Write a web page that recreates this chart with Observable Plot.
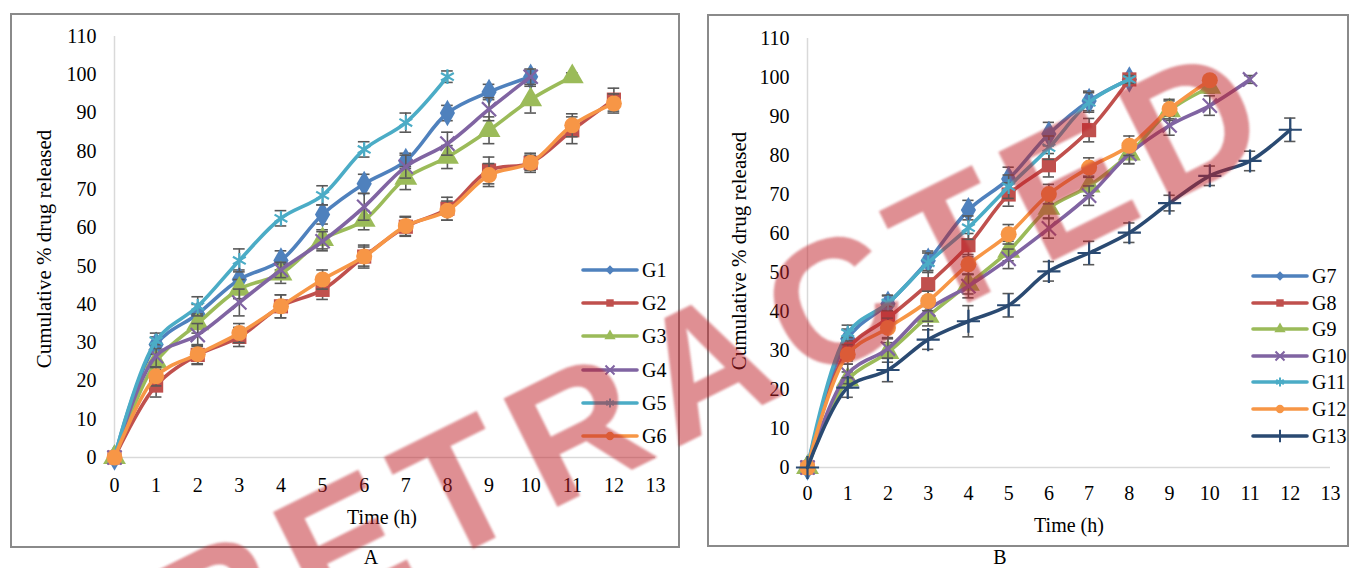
<!DOCTYPE html>
<html>
<head>
<meta charset="utf-8">
<script src="https://cdn.jsdelivr.net/npm/d3@7"></script>
<script src="https://cdn.jsdelivr.net/npm/@observablehq/plot@0.6"></script>
<style>
  html, body { margin: 0; padding: 0; background: #fff; }
  #wrap { position: relative; width: 1349px; height: 568px; overflow: hidden; font-family: "Liberation Serif", "Times New Roman", serif; color: #000; }
  .frame { position: absolute; border: 2px solid #8a8a8a; box-sizing: border-box; }
  .abs { position: absolute; white-space: nowrap; }
  .plotbox { position: absolute; top: 0; }
  .legend-item { position: absolute; display: flex; align-items: center; font-size: 20px; line-height: 1; }
  #watermark { position: absolute; left: 712px; top: 362px; transform: translate(-50%, -50%) rotate(-26.4deg);
    font-family: "Liberation Sans", Arial, sans-serif; font-weight: bold; font-size: 176px; letter-spacing: 16px;
    color: rgba(192, 32, 40, 0.5); white-space: nowrap; line-height: 1; filter: blur(1.2px); pointer-events: none; }
</style>
</head>
<body>
<div id="wrap">
  <div class="frame" style="left:10px; top:13px; width:670px; height:535px;"></div>
  <div class="frame" style="left:707px; top:14px; width:642px; height:533px;"></div>
  <div id="plotA" class="plotbox" style="left:0px;"></div>
  <div id="plotB" class="plotbox" style="left:700px;"></div>
</div>
<script>
// ---------------- data ----------------
const hours = [0, 1, 2, 3, 4, 5, 6, 7, 8, 9, 10, 11, 12];
const xTicks = [0, 1, 2, 3, 4, 5, 6, 7, 8, 9, 10, 11, 12, 13];
const yTicks = [0, 10, 20, 30, 40, 50, 60, 70, 80, 90, 100, 110];

// Panel A
const g1 = [0, 29.5, 37.5, 46.5, 51.5, 63.5, 71.5, 77.5, 90, 95.5, 99.5];
const g1Err = [0, 2, 2.5, 2.5, 2.5, 2.5, 2.5, 2, 2, 2, 1.5];
const g2 = [0, 18.8, 26.8, 31.5, 39.5, 43.8, 52.5, 60.3, 65, 75, 77, 85.5, 93.5];
const g2Err = [0, 3, 2.5, 2.5, 3, 2.5, 3, 2.5, 3, 3.5, 2.5, 3.5, 3];
const g3 = [0, 25, 35, 44, 48, 57, 62, 73, 78.5, 85.5, 93.5, 99.5];
const g3Err = [0, 2, 2.5, 2.5, 2.5, 2.5, 2.5, 3, 3, 3.5, 3.5, 1];
const g4 = [0, 26.5, 32, 40.5, 49, 56.5, 65.5, 76, 82, 91, 99.5];
const g4Err = [0, 3, 3, 3.5, 2, 2.5, 3.5, 3, 3, 3, 2];
const g5 = [0, 30.5, 39.5, 51.5, 62.5, 68.5, 80.5, 87.5, 99.5];
const g5Err = [0, 2, 2.5, 3, 2, 2.5, 2, 2.5, 1.5];
const g6 = [0, 21.2, 27, 32.5, 39.5, 46.5, 52.5, 60.5, 64.5, 73.8, 77, 86.8, 92.5];
const g6Err = [0, 2.5, 2.5, 2.5, 3, 2.5, 2.5, 2.5, 2.5, 3, 2, 3, 2.5];

// Panel B
const g7 = [0, 33, 42, 53, 66, 74, 85.5, 94, 99.5];
const g7Err = [0, 2.5, 2, 2.5, 2.5, 3, 3, 2.5, 1];
const g8 = [0, 30.3, 38.3, 47, 57, 70, 77.5, 86.5, 99.5];
const g8Err = [0, 3, 3, 3.5, 3, 3, 3, 3, 1];
const g9 = [0, 22.5, 29.5, 38.8, 47, 55.5, 66.5, 72.2, 80.4, 91.5, 97.5];
const g9Err = [0, 2, 2.5, 2.5, 2.5, 2.5, 2.5, 2.5, 2.5, 2.5, 1.5];
const g10 = [0, 24, 30.5, 40.5, 46.5, 53.5, 61.3, 69.7, 80.4, 87.7, 92.8, 99.5];
const g10Err = [0, 2.5, 2.5, 3, 3, 2.5, 2.5, 2.5, 2.5, 2.5, 2.5, 1];
const g11 = [0, 34.5, 42.2, 52.5, 61.5, 72, 82, 93.6, 99.5];
const g11Err = [0, 2, 2, 2.5, 3, 3, 3, 2.5, 1];
const g12 = [0, 29, 35.8, 42.7, 52.1, 59.8, 70.1, 76.9, 82.5, 91.9, 99.3];
const g12Err = [0, 2.5, 2.5, 2.5, 2.5, 2.5, 2.5, 2.5, 2.5, 2.5, 1];
const g13 = [0, 20.5, 25, 32.8, 37.5, 41.6, 50.3, 55, 60.2, 67.8, 74.8, 78.6, 86.6];
const g13Err = [0, 2.5, 3, 2.5, 4, 3, 2.5, 3, 2.5, 2, 2.5, 2.5, 3];

const namesA = ["G1", "G2", "G3", "G4", "G5", "G6"];
const namesB = ["G7", "G8", "G9", "G10", "G11", "G12", "G13"];
const colors = {G1:"#4F81BD", G2:"#C0504D", G3:"#9BBB59", G4:"#8064A2", G5:"#4BACC6", G6:"#F79646",
                G7:"#4F81BD", G8:"#C0504D", G9:"#9BBB59", G10:"#8064A2", G11:"#4BACC6", G12:"#F79646", G13:"#2A4A72"};
const symbols = {G1:"diamond", G2:"square", G3:"triangle", G4:"times", G5:"asterisk", G6:"circle",
                 G7:"diamond", G8:"square", G9:"triangle", G10:"times", G11:"asterisk", G12:"circle", G13:"plus"};
const valuesA = [g1, g2, g3, g4, g5, g6];
const errsA = [g1Err, g2Err, g3Err, g4Err, g5Err, g6Err];
const valuesB = [g7, g8, g9, g10, g11, g12, g13];
const errsB = [g7Err, g8Err, g9Err, g10Err, g11Err, g12Err, g13Err];

// ---------------- drawing ----------------
const strokeOnly = new Set(["times", "asterisk", "plus"]);
const markerR = {diamond: 8, square: 8, triangle: 8.5, times: 6.5, asterisk: 7, circle: 8, plus: 7.5};
const capHalf = 0.14;

function seriesMarks(name, values, errs) {
  const rows = values.map((v, i) => ({t: hours[i], v, e: errs[i]}));
  const eb = rows.filter(d => d.e > 0);
  const c = colors[name], s = symbols[name];
  const dotOpts = strokeOnly.has(s)
    ? {x: "t", y: "v", symbol: s, r: markerR[s], stroke: c, strokeWidth: 2.2, fill: "none"}
    : {x: "t", y: "v", symbol: s, r: markerR[s], fill: c, stroke: "none"};
  return [
    Plot.ruleX(eb, {x: "t", y1: d => d.v - d.e, y2: d => d.v + d.e, stroke: "#595959", strokeWidth: 1.6}),
    Plot.ruleY(eb, {y: d => d.v - d.e, x1: d => d.t - capHalf, x2: d => d.t + capHalf, stroke: "#595959", strokeWidth: 1.6}),
    Plot.ruleY(eb, {y: d => d.v + d.e, x1: d => d.t - capHalf, x2: d => d.t + capHalf, stroke: "#595959", strokeWidth: 1.6}),
    Plot.line(rows, {x: "t", y: "v", stroke: c, strokeWidth: 3.6, curve: "catmull-rom", strokeLinejoin: "round", strokeLinecap: "round"}),
    Plot.dot(rows, dotOpts)
  ];
}

function panel(names, values, errs, opts) {
  const marks = [
    Plot.ruleY([0], {x1: 0, x2: 13, stroke: "#d9d9d9", strokeWidth: 1.5}),
    Plot.ruleX([0], {y1: 0, y2: 110, stroke: "#d9d9d9", strokeWidth: 1.5}),
    Plot.axisX({ticks: xTicks, tickSize: 0, tickPadding: opts.xPad, tickFormat: d => String(d), label: null}),
    Plot.axisY({ticks: yTicks, tickSize: 0, tickPadding: 18, tickFormat: d => String(d), label: null})
  ];
  names.forEach((n, i) => marks.push(...seriesMarks(n, values[i], errs[i])));
  return Plot.plot({
    width: opts.width, height: 568,
    marginLeft: opts.ml, marginRight: opts.mr, marginTop: opts.mt, marginBottom: opts.mb,
    x: {domain: [0, 13]}, y: {domain: [0, 110]},
    style: {fontFamily: "'Liberation Serif', 'Times New Roman', serif", fontSize: "20px", color: "#000", background: "transparent", overflow: "visible"},
    marks
  });
}

document.getElementById("plotA").append(panel(namesA, valuesA, errsA, {width: 700, ml: 114, mr: 45, mt: 36, mb: 111, xPad: 20}));
document.getElementById("plotB").append(panel(namesB, valuesB, errsB, {width: 649, ml: 107, mr: 19, mt: 38, mb: 101, xPad: 18}));

// ---------------- texts ----------------
const wrap = document.getElementById("wrap");
function addText(txt, x, y, size, rotate) {
  const d = document.createElement("div");
  d.className = "abs";
  d.textContent = txt;
  d.style.fontSize = size + "px";
  d.style.lineHeight = "1";
  d.style.left = x + "px";
  d.style.top = y + "px";
  d.style.transform = "translate(-50%, -50%)" + (rotate ? " rotate(" + rotate + "deg)" : "");
  wrap.append(d);
}
const yTitle = "Cumulative % drug released";
const xTitle = "Time (h)";
addText(yTitle, 44, 249, 21, -90);
addText(yTitle, 739, 251, 21, -90);
addText(xTitle, 382, 517, 20);
addText(xTitle, 1069, 525, 20);
addText("A", 371, 557, 20);
addText("B", 1000, 557, 20);

// legends
function legend(names, x0, y0, dy) {
  const symMap = {diamond: d3.symbolDiamond2, square: d3.symbolSquare, triangle: d3.symbolTriangle, times: d3.symbolTimes, asterisk: d3.symbolAsterisk, circle: d3.symbolCircle, plus: d3.symbolPlus};
  names.forEach((n, i) => {
    const item = document.createElement("div");
    item.className = "legend-item";
    item.style.left = x0 + "px";
    item.style.top = (y0 + i * dy - 10) + "px";
    item.style.height = "20px";
    const s = symbols[n], c = colors[n];
    const svg = d3.create("svg").attr("width", 56).attr("height", 20).style("overflow", "visible");
    svg.append("line").attr("x1", 1).attr("x2", 55).attr("y1", 10).attr("y2", 10)
      .attr("stroke", c).attr("stroke-width", 3.6).attr("stroke-linecap", "round");
    const p = svg.append("path").attr("d", d3.symbol(symMap[s], 55)()).attr("transform", "translate(28,10)");
    if (strokeOnly.has(s)) p.attr("fill", "none").attr("stroke", c).attr("stroke-width", 2);
    else p.attr("fill", c);
    item.append(svg.node());
    const t = document.createElement("span");
    t.textContent = n;
    t.style.marginLeft = "4px";
    item.append(t);
    wrap.append(item);
  });
}
legend(namesA, 582, 270, 33.2);
legend(namesB, 1252, 276, 26.6);

// watermark
const wm = document.createElement("div");
wm.id = "watermark";
wm.textContent = "RETRACTED";
wrap.append(wm);
</script>
</body>
</html>
